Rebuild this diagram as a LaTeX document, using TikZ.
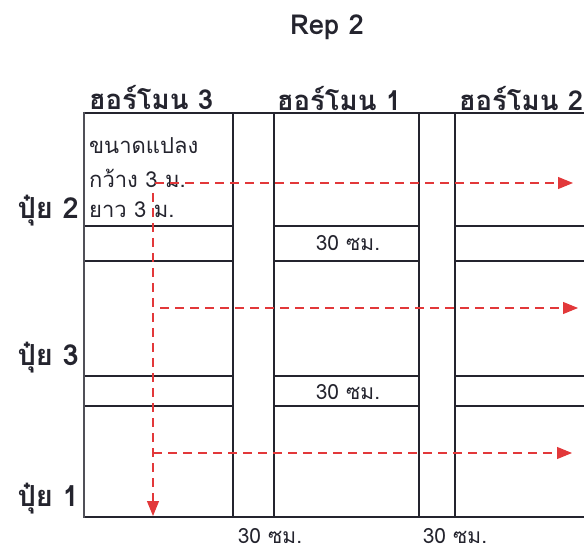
\documentclass[tikz,border=0pt]{standalone}
\usepackage{fontspec}
\newfontfamily\thaifont[Script=Thai]{Loma}
\usetikzlibrary{arrows.meta}
\usetikzlibrary{positioning}
\definecolor{gridline}{HTML}{24242E}
\definecolor{pathred}{HTML}{E2383A}
\tikzset{
    plotline/.style = {line width=1.4pt, draw=gridline},
    outerline/.style = {line width=2.4pt, draw=gridline!80!white},
    walkpath/.style = {-{Triangle[length=15pt,width=12pt]}, line width=1.1pt, pathred, dash pattern=on 9pt off 6pt},
    header/.style = {inner sep=1pt, font=\thaifont\bfseries\fontsize{27.5}{30}\selectfont, text=gridline},
    sidelabel/.style = {anchor=east, inner sep=1pt, font=\thaifont\bfseries\fontsize{29}{32}\selectfont, text=gridline},
    plotnote/.style = {anchor=west, font=\thaifont\fontsize{22}{24}\selectfont, text=gridline, inner sep=0pt},
    gaplabel/.style = {inner sep=0pt, font=\thaifont\fontsize{21}{24}\selectfont, text=gridline},
    bottomlabel/.style = {gaplabel, anchor=south, text depth=0pt},
}

\begin{document}
\begin{tikzpicture}[x=1pt,y=-1pt]
  \useasboundingbox (0,0) rectangle (584,553);

  \node[header] (title) at (327,27) {Rep 2};
  \node[header] (h3) at (151,98) {ฮอร์โมน 3};
  \node[header] (h1) at (339,98) {ฮอร์โมน 1};
  \node[header] (h2) at (521,98) {ฮอร์โมน 2};

  % outer frame
  \draw[plotline] (84,113) -- (584,113);
  \draw[plotline] (84,517) -- (584,517);
  \foreach \x in {233,274,419,455}
    \draw[plotline] (\x,113) -- (\x,517);
  % rows of plots
  \foreach \y in {226,261,376,406} {
    \draw[plotline] (84,\y) -- (233,\y);
    \draw[plotline] (274,\y) -- (419,\y);
    \draw[plotline] (455,\y) -- (584,\y);
  }
  \draw[outerline] (84,112) -- (84,518);

  \node[sidelabel] (f2) at (80,211) {ปุ๋ย 2};
  \node[sidelabel] (f3) at (80,358) {ปุ๋ย 3};
  \node[sidelabel] (f1) at (80,499) {ปุ๋ย 1};

  \node[plotnote] (size) at (89,146) {ขนาดแปลง};
  \node[plotnote] (wide) at (89,178) {กว้าง 3 ม.};
  \node[plotnote] (long) at (89,210) {ยาว 3 ม.};

  \node[gaplabel] (g1) at (348,243) {30 ซม.};
  \node[gaplabel] (g2) at (348,392) {30 ซม.};
  \node[bottomlabel] (g3) at (270,544) {30 ซม.};
  \node[bottomlabel] (g4) at (455,544) {30 ซม.};

  % walking path
  \coordinate (p1s) at (155,183);
  \coordinate (p1e) at (573,183);
  \coordinate (p2s) at (160,308);
  \coordinate (p2e) at (578,308);
  \coordinate (p3s) at (153,453);
  \coordinate (p3e) at (572,453);
  \coordinate (vs) at (153,193);
  \coordinate (ve) at (153,516);
  \draw[walkpath] (p1s) -- (p1e);
  \draw[walkpath] (p2s) -- (p2e);
  \draw[walkpath] (p3s) -- (p3e);
  \draw[walkpath] (vs) -- (ve);
\end{tikzpicture}
\end{document}
